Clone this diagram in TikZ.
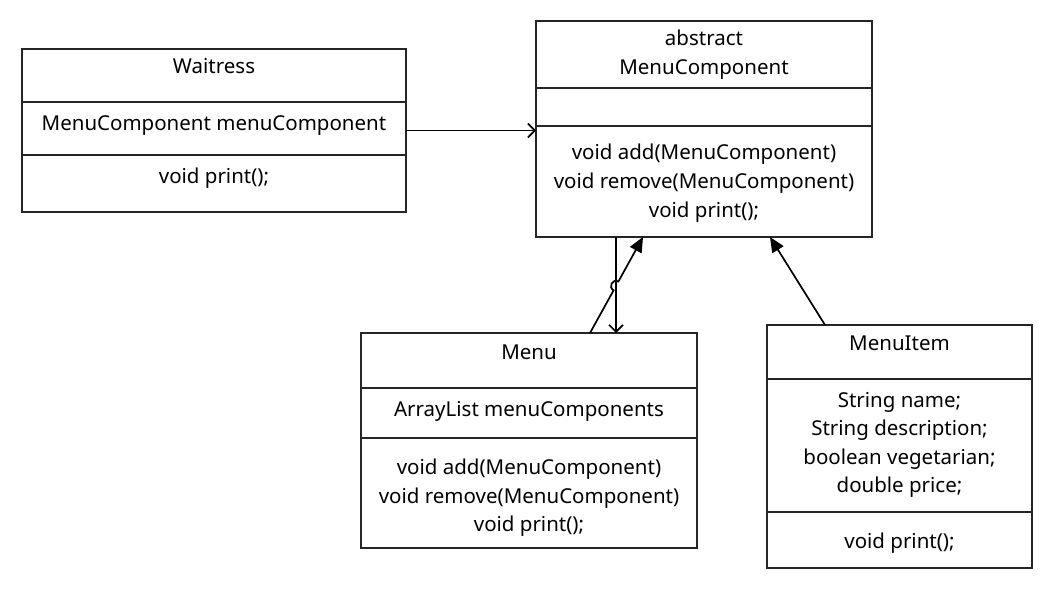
\documentclass[tikz,border=0pt]{standalone}
\usepackage{fontspec}
\setmainfont{Noto Sans}
\usetikzlibrary{arrows.meta,calc}
\tikzset{
  classbox/.style={draw=black!85, line width=1.6pt, inner sep=0pt, outer sep=0pt, anchor=north west},
  divider/.style={draw=black!85, line width=1.6pt},
  txt/.style={anchor=base, inner sep=0pt, font=\fontsize{20.5}{28}\selectfont},
  conn/.style={draw=black, line width=1.7pt},
  openhead/.style={-{Straight Barb[length=7pt,width=14pt,line width=1.6pt]}},
  filledhead/.style={-{Triangle[length=15pt,width=13pt]}}
}
\begin{document}
\begin{tikzpicture}[x=1pt,y=-1pt]
\useasboundingbox[fill=white] (0,0) rectangle (1050,591);
% boxes
\node[classbox, minimum width=384pt, minimum height=163pt] (waitress) at (22,49) {};
\node[classbox, minimum width=336pt, minimum height=216pt] (mc) at (536,21) {};
\node[classbox, minimum width=336pt, minimum height=215pt] (menu) at (361,333) {};
\node[classbox, minimum width=265pt, minimum height=243pt] (item) at (767,325) {};
% dividers
\draw[divider] (waitress.west |- 0,102) -- (waitress.east |- 0,102);
\draw[divider] (waitress.west |- 0,155) -- (waitress.east |- 0,155);
\draw[divider] (mc.west |- 0,88) -- (mc.east |- 0,88);
\draw[divider] (mc.west |- 0,126) -- (mc.east |- 0,126);
\draw[divider] (menu.west |- 0,388) -- (menu.east |- 0,388);
\draw[divider] (menu.west |- 0,438) -- (menu.east |- 0,438);
\draw[divider] (item.west |- 0,379) -- (item.east |- 0,379);
\draw[divider] (item.west |- 0,512) -- (item.east |- 0,512);
% texts
\node[txt] (w1) at (waitress.north |- 0,74) {Waitress};
\node[txt] (w2) at (waitress.north |- 0,131) {MenuComponent menuComponent};
\node[txt] (w3) at (waitress.north |- 0,183) {void print();};
\node[txt] (m1) at (mc.north |- 0,46) {abstract};
\node[txt] (m2) at (mc.north |- 0,75) {MenuComponent};
\node[txt] (m3) at (mc.north |- 0,160) {void add(MenuComponent)};
\node[txt] (m4) at (mc.north |- 0,189) {void remove(MenuComponent)};
\node[txt] (m5) at (mc.north |- 0,217) {void print();};
\node[txt] (n1) at (menu.north |- 0,359) {Menu};
\node[txt] (n2) at (menu.north |- 0,416) {ArrayList menuComponents};
\node[txt] (n3) at (menu.north |- 0,474) {void add(MenuComponent)};
\node[txt] (n4) at (menu.north |- 0,503) {void remove(MenuComponent)};
\node[txt] (n5) at (menu.north |- 0,531) {void print();};
\node[txt] (i1) at (item.north |- 0,350) {MenuItem};
\node[txt] (i2) at (item.north |- 0,407) {String name;};
\node[txt] (i3) at (item.north |- 0,435.5) {String description;};
\node[txt] (i4) at (item.north |- 0,464) {boolean vegetarian;};
\node[txt] (i5) at (item.north |- 0,492.5) {double price;};
\node[txt] (i6) at (item.north |- 0,548) {void print();};
% connectors
\draw[conn, openhead] (waitress.east) -- (waitress.east -| mc.west);
\coordinate (vtop) at ($(mc.south west)+(80,0)$);
\draw[conn, openhead] (vtop) -- (vtop |- menu.north);
\coordinate (mstart) at ($(menu.north west)+(229,0)$);
\coordinate (mtip) at ($(mc.south west)+(107,0)$);
\coordinate (hopA) at (613.6,290.3);
\coordinate (hopB) at (618.4,281.5);
\draw[conn, filledhead] (mstart) -- (hopA) .. controls (607.8,287.1) and (612.6,278.3) .. (hopB) -- (mtip);
\coordinate (istart) at ($(item.north west)+(58,0)$);
\coordinate (itip) at ($(mc.south west)+(234,0)$);
\draw[conn, filledhead] (istart) -- (itip);
\end{tikzpicture}
\end{document}
